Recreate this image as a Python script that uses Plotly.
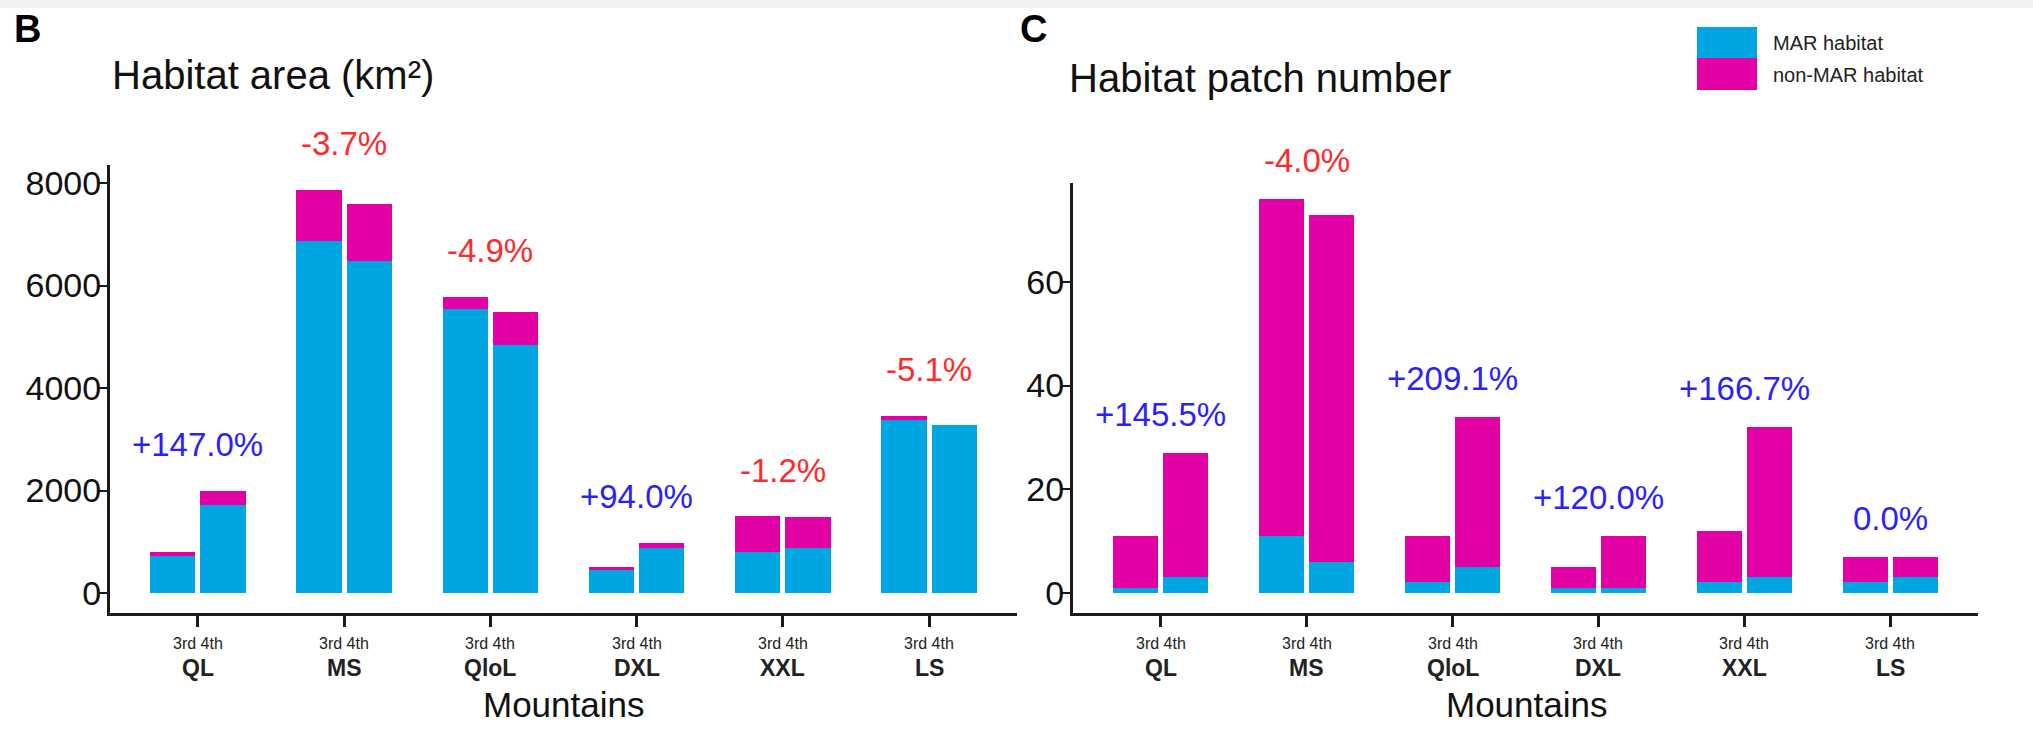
import plotly.graph_objects as go

# ---------------- data ----------------
mountains = ["QL", "MS", "QloL", "DXL", "XXL", "LS"]
periods = ["3rd", "4th"]

# Habitat area (km²)
area_mar_3rd = [730, 6870, 5550, 440, 800, 3380]
area_non_3rd = [75, 1000, 228, 65, 694, 80]
area_mar_4th = [1720, 6470, 4845, 880, 880, 3284]
area_non_4th = [268, 1111, 637, 95, 596, 0]
area_labels = ["+147.0%", "-3.7%", "-4.9%", "+94.0%", "-1.2%", "-5.1%"]

# Habitat patch number
patch_mar_3rd = [1, 11, 2, 1, 2, 2]
patch_non_3rd = [10, 65, 9, 4, 10, 5]
patch_mar_4th = [3, 6, 5, 1, 3, 3]
patch_non_4th = [24, 67, 29, 10, 29, 4]
patch_labels = ["+145.5%", "-4.0%", "+209.1%", "+120.0%", "+166.7%", "0.0%"]

# ---------------- style ----------------
W, H = 2033, 734
FONT = "Liberation Sans, Arial, sans-serif"
C_MAR = "#00A6E2"
C_NON = "#E200A4"
C_UP = "#2B1EFF"
C_DOWN = "#FF2B2B"
AX = "#1a1a1a"
DODGE = 0.172
BARW = 0.31


def px_x(p):
    return p / W


def px_y(p):
    return 1 - p / H


n = len(mountains)
xpos = [i - DODGE for i in range(n)] + [i + DODGE for i in range(n)]

X_RANGE = [-0.6, 5.6]
Y1_RANGE = [-390, 8351]
Y2_RANGE = [-3.9, 79.1]
Y1_DOM = [px_y(613), px_y(165)]
Y2_DOM = [px_y(613), px_y(183)]

fig = go.Figure()


def add_panel(mar3, non3, mar4, non4, xa, ya):
    fig.add_trace(go.Bar(x=xpos, y=mar3 + mar4, width=BARW, name="MAR habitat",
                         marker=dict(color=C_MAR, line=dict(width=0)),
                         xaxis=xa, yaxis=ya, showlegend=False))
    fig.add_trace(go.Bar(x=xpos, y=non3 + non4, width=BARW, name="non-MAR habitat",
                         marker=dict(color=C_NON, line=dict(width=0)),
                         xaxis=xa, yaxis=ya, showlegend=False))


add_panel(area_mar_3rd, area_non_3rd, area_mar_4th, area_non_4th, "x", "y")
add_panel(patch_mar_3rd, patch_non_3rd, patch_mar_4th, patch_non_4th, "x2", "y2")

annotations = []
shapes = []


def to_paper(v, rng, dom):
    return dom[0] + (v - rng[0]) / (rng[1] - rng[0]) * (dom[1] - dom[0])


def pct_labels(labels, mar3, non3, mar4, non4, offset, xr, rng, dom):
    for i, lab in enumerate(labels):
        top = max(mar3[i] + non3[i], mar4[i] + non4[i])
        annotations.append(dict(x=i, y=to_paper(top + offset, rng, dom), xref=xr, yref="paper",
                                text=lab, showarrow=False, xanchor="center", yanchor="middle",
                                font=dict(family=FONT, size=33,
                                          color=C_DOWN if lab.startswith("-") else C_UP)))


pct_labels(area_labels, area_mar_3rd, area_non_3rd, area_mar_4th, area_non_4th, 900,
           "x", Y1_RANGE, Y1_DOM)
pct_labels(patch_labels, patch_mar_3rd, patch_non_3rd, patch_mar_4th, patch_non_4th, 7.4,
           "x2", Y2_RANGE, Y2_DOM)

# category tick labels (two lines)
for xr in ["x", "x2"]:
    for i, m in enumerate(mountains):
        annotations.append(dict(x=i, y=px_y(643), xref=xr, yref="paper",
                                text=" ".join(periods), showarrow=False,
                                xanchor="center", yanchor="middle",
                                font=dict(family=FONT, size=16, color="#222")))
        annotations.append(dict(x=i, y=px_y(668), xref=xr, yref="paper",
                                text="<b>" + m + "</b>", showarrow=False,
                                xanchor="center", yanchor="middle",
                                font=dict(family=FONT, size=23, color="#222")))

# axis titles, panel titles, tags
for cx in [563, 1526]:
    annotations.append(dict(x=px_x(cx), y=px_y(704), xref="paper", yref="paper",
                            text="Mountains", showarrow=False, xanchor="center",
                            yanchor="middle", font=dict(family=FONT, size=35, color="#111")))
annotations.append(dict(x=px_x(110), y=px_y(75), xref="paper", yref="paper",
                        text="Habitat area (km²)", showarrow=False, xanchor="left",
                        yanchor="middle", font=dict(family=FONT, size=40, color="#111")))
annotations.append(dict(x=px_x(1067), y=px_y(78), xref="paper", yref="paper",
                        text="Habitat patch number", showarrow=False, xanchor="left",
                        yanchor="middle", font=dict(family=FONT, size=40, color="#111")))
annotations.append(dict(x=px_x(12), y=px_y(29), xref="paper", yref="paper",
                        text="<b>B</b>", showarrow=False, xanchor="left",
                        yanchor="middle", font=dict(family=FONT, size=38, color="#000")))
annotations.append(dict(x=px_x(1018), y=px_y(29), xref="paper", yref="paper",
                        text="<b>C</b>", showarrow=False, xanchor="left",
                        yanchor="middle", font=dict(family=FONT, size=38, color="#000")))

# top band and legend (drawn as blocks)
shapes.append(dict(type="rect", xref="paper", yref="paper", x0=0, x1=1,
                   y0=px_y(8), y1=1, fillcolor="#f2f2f2", line=dict(width=0), layer="below"))
shapes.append(dict(type="rect", xref="paper", yref="paper", x0=px_x(1697), x1=px_x(1757),
                   y0=px_y(58), y1=px_y(27), fillcolor=C_MAR, line=dict(width=0)))
shapes.append(dict(type="rect", xref="paper", yref="paper", x0=px_x(1697), x1=px_x(1757),
                   y0=px_y(90), y1=px_y(58), fillcolor=C_NON, line=dict(width=0)))
annotations.append(dict(x=px_x(1771), y=px_y(43), xref="paper", yref="paper",
                        text="MAR habitat", showarrow=False, xanchor="left", yanchor="middle",
                        font=dict(family=FONT, size=20, color="#222")))
annotations.append(dict(x=px_x(1771), y=px_y(75), xref="paper", yref="paper",
                        text="non-MAR habitat", showarrow=False, xanchor="left", yanchor="middle",
                        font=dict(family=FONT, size=20, color="#222")))

xax = dict(range=X_RANGE, tickvals=list(range(n)), showticklabels=False,
           ticks="outside", ticklen=11, tickwidth=3, tickcolor=AX,
           showline=True, linewidth=3, linecolor=AX, showgrid=False, zeroline=False,
           fixedrange=True)
yax = dict(ticks="outside", ticklen=9, tickwidth=2, tickcolor=AX,
           showline=True, linewidth=3, linecolor=AX, showgrid=False, zeroline=False,
           ticklabelstandoff=-10,
           tickfont=dict(family=FONT, size=34, color="#111"), fixedrange=True)

fig.update_layout(
    width=W, height=H,
    margin=dict(l=0, r=0, t=0, b=0),
    paper_bgcolor="white", plot_bgcolor="white",
    barmode="stack", showlegend=False,
    xaxis=dict(xax, domain=[px_x(110), px_x(1017)], anchor="y"),
    yaxis=dict(yax, domain=Y1_DOM, range=Y1_RANGE,
               tickvals=[0, 2000, 4000, 6000, 8000], anchor="x"),
    xaxis2=dict(xax, domain=[px_x(1073), px_x(1978)], anchor="y2"),
    yaxis2=dict(yax, domain=Y2_DOM, range=Y2_RANGE,
                tickvals=[0, 20, 40, 60], anchor="x2"),
    annotations=annotations,
    shapes=shapes,
    font=dict(family=FONT),
)

fig.write_html("out.html", config={"displayModeBar": False},
               post_script="document.body.style.margin='0px';document.body.style.overflow='hidden';")
